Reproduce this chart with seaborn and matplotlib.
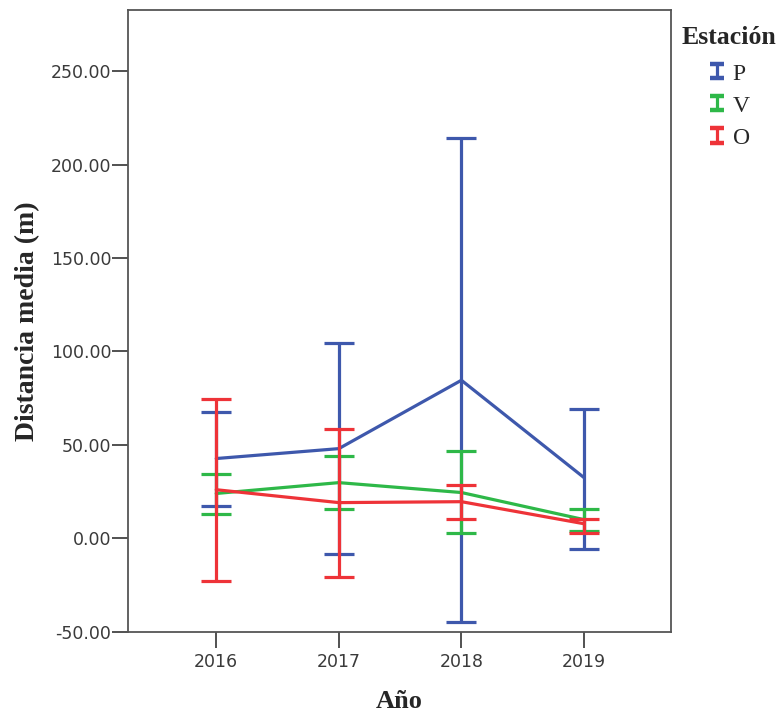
import matplotlib
matplotlib.use("Agg")
import matplotlib.pyplot as plt
import seaborn as sns
import pandas as pd
from matplotlib.legend_handler import HandlerErrorbar
from matplotlib.container import ErrorbarContainer
from matplotlib.lines import Line2D
from matplotlib.ticker import FormatStrFormatter

# ---- data ----
years = [2016, 2017, 2018, 2019]
stations = ["P", "V", "O"]
P_mean = [42.7, 48.0, 84.6, 32.5]
P_lo = [17.3, -8.6, -44.8, -5.5]
P_hi = [67.6, 104.4, 214.5, 69.0]
V_mean = [24.0, 29.8, 24.5, 10.0]
V_lo = [13.2, 15.5, 2.7, 3.9]
V_hi = [34.6, 44.0, 46.7, 15.9]
O_mean = [26.0, 19.1, 19.6, 7.8]
O_lo = [-22.7, -20.9, 10.2, 2.7]
O_hi = [74.8, 58.7, 28.5, 10.5]
y_ticks = [-50, 0, 50, 100, 150, 200, 250]

colors = {"P": "#3E58AC", "V": "#2EB848", "O": "#EE3338"}
series = {"P": (P_mean, P_lo, P_hi), "V": (V_mean, V_lo, V_hi), "O": (O_mean, O_lo, O_hi)}

rows = []
for s in stations:
    m, lo, hi = series[s]
    for y, a, b, c in zip(years, m, lo, hi):
        rows.append({"Año": y, "Estación": s, "mean": a, "lo": b, "hi": c})
df = pd.DataFrame(rows)

sns.set_style("ticks")
plt.rcParams["font.family"] = ["DejaVu Sans"]

fig = plt.figure(figsize=(7.79, 7.13), dpi=100)
ax = fig.add_axes([128 / 779, 1 - 631.7 / 713, (671 - 128) / 779, (631.7 - 10) / 713])

lw = 2.3
handles = []
for i, s in enumerate(stations):
    sub = df[df["Estación"] == s]
    sns.lineplot(data=sub, x="Año", y="mean", color=colors[s], lw=lw, ax=ax,
                 legend=False, zorder=3 + i)
    eb = ax.errorbar(sub["Año"], sub["mean"],
                     yerr=[sub["mean"] - sub["lo"], sub["hi"] - sub["mean"]],
                     fmt="none", ecolor=colors[s], elinewidth=lw, capsize=11,
                     capthick=lw, zorder=3 + i, label=s)
    handles.append(eb)

ax.set_xlim(2015.28, 2019.71)
ax.set_ylim(-50, 282.8)
ax.set_xticks(years)
ax.set_xticklabels([str(y) for y in years])
ax.set_yticks(y_ticks)
ax.yaxis.set_major_formatter(FormatStrFormatter("%.2f"))

for sp in ax.spines.values():
    sp.set_visible(True)
    sp.set_color("#555555")
    sp.set_linewidth(1.3)

ax.tick_params(axis="both", which="major", direction="out", length=11.5, width=1.2,
               color="#333333", labelsize=12.5, labelcolor="#3a3a3a",
               bottom=True, left=True, top=False, right=False)
ax.tick_params(axis="y", pad=0.5)
ax.tick_params(axis="x", pad=4)

ax.set_xlabel("Año", fontsize=19, fontweight="bold", family="Liberation Serif")
ax.set_ylabel("Distancia media (m)", fontsize=20, fontweight="bold", family="Liberation Serif")
ax.xaxis.set_label_coords(0.5, -0.093)
ax.yaxis.set_label_coords(-0.162, 0.5)

fig.text(682 / 779, 1 - 44 / 713, "Estación", family="Liberation Serif", fontsize=18.5,
         fontweight="bold", ha="left", va="baseline")


def upd(h, o):
    h.update_from(o)
    if isinstance(h, Line2D):
        h.set_markersize(10)
        h.set_markeredgewidth(3.2)


leg = ax.legend(handles=handles, labels=stations,
                loc="upper left", bbox_to_anchor=(708 / 779, 1 - 63 / 713),
                bbox_transform=fig.transFigure, frameon=False,
                prop={"family": "Liberation Serif", "size": 17},
                handlelength=0.8, handletextpad=0.25, labelspacing=0.45,
                borderpad=0.0, borderaxespad=0,
                handler_map={ErrorbarContainer: HandlerErrorbar(xerr_size=0.3, yerr_size=0.3, update_func=upd)})

fig.savefig("out.png", dpi=100)
